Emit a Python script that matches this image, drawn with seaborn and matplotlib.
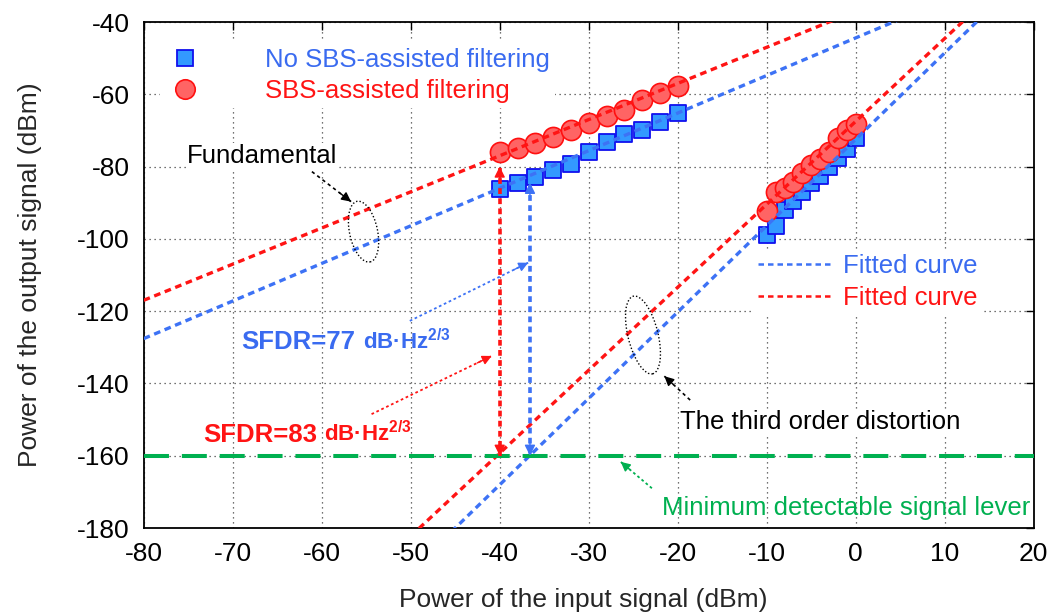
import numpy as np
import pandas as pd
import seaborn as sns
import matplotlib.pyplot as plt
from matplotlib.lines import Line2D
from matplotlib.patches import Ellipse
from matplotlib.transforms import ScaledTranslation

# Measured output power (dBm) versus input power (dBm)
x_fund = [-40, -38, -36, -34, -32, -30, -28, -26, -24, -22, -20]
no_sbs_fund = [-86.3, -84.6, -82.8, -81.0, -79.2, -76.0, -73.2, -71.1, -69.9, -67.6, -65.1]
sbs_fund = [-75.9, -74.9, -73.6, -71.9, -69.9, -67.9, -66.0, -64.3, -61.6, -59.7, -57.7]

x_imd = [-10, -9, -8, -7, -6, -5, -4, -3, -2, -1, 0]
no_sbs_imd = [-99.0, -96.5, -92.0, -89.5, -87.0, -84.5, -82.5, -80.0, -77.5, -75.0, -72.0]
sbs_imd = [-92.3, -87.0, -86.0, -84.4, -81.8, -79.6, -77.8, -76.0, -72.0, -70.0, -68.3]

# Linear fits: (slope, intercept, x_start, x_end)
fit_no_sbs_fund = (1.04, -44.4, -80, 20)
fit_sbs_fund = (1.00, -37.0, -80, 20)
fit_no_sbs_imd = (2.39, -72.45, -50, 20)
fit_sbs_imd = (2.295, -67.5, -50, 20)

noise_floor = -160
sfdr_no_sbs = 77
sfdr_sbs = 83
x_sfdr_sbs = -40
x_sfdr_no_sbs = -36.6

BLUE = "#3d72f5"
BLUE_TXT = "#3a6bf0"
RED = "#ff1414"
GREEN = "#00b050"

sns.set_theme(style="white")
plt.rcParams["font.family"] = ["Liberation Sans", "DejaVu Sans"]
plt.rcParams["axes.unicode_minus"] = False
plt.rcParams["mathtext.fontset"] = "custom"
plt.rcParams["mathtext.rm"] = "Liberation Sans"
plt.rcParams["mathtext.bf"] = "Liberation Sans:bold"

fig = plt.figure(figsize=(10.49, 6.16), dpi=100)
ax = fig.add_axes([143.7 / 1049, 1 - 528 / 616, 890 / 1049, 506 / 616])

ax.set_xlim(-80, 20)
ax.set_ylim(-180, -40)
ax.set_xticks(np.arange(-80, 21, 10))
ax.set_yticks(np.arange(-180, -39, 20))
ax.grid(True, color="#444444", linestyle=(0, (1, 3)), linewidth=0.9, zorder=0)
ax.set_axisbelow(True)

fit_dash = (0, (2.0, 1.4))


def draw_fit(fit, color):
    k, b, x0, x1 = fit
    xs = np.array([x0, x1], dtype=float)
    df = pd.DataFrame({"x": xs, "y": k * xs + b})
    sns.lineplot(data=df, x="x", y="y", ax=ax, color=color, linewidth=2.4,
                 linestyle=fit_dash, zorder=5, legend=False)


# measured points
sns.scatterplot(x=x_fund, y=no_sbs_fund, ax=ax, marker="s", s=135, color="#3399ff",
                edgecolor="#1010ee", linewidth=1.3, zorder=4, legend=False)
sns.scatterplot(x=x_imd, y=no_sbs_imd, ax=ax, marker="s", s=135, color="#3399ff",
                edgecolor="#1010ee", linewidth=1.3, zorder=4, legend=False)
sns.scatterplot(x=x_fund, y=sbs_fund, ax=ax, marker="o", s=210, color="#ff6464",
                edgecolor="#ff1010", linewidth=1.2, zorder=4, legend=False)
sns.scatterplot(x=x_imd, y=sbs_imd, ax=ax, marker="o", s=210, color="#ff6464",
                edgecolor="#ff1010", linewidth=1.2, zorder=4, legend=False)

draw_fit(fit_no_sbs_fund, BLUE)
draw_fit(fit_sbs_fund, RED)
draw_fit(fit_no_sbs_imd, BLUE)
draw_fit(fit_sbs_imd, RED)

# minimum detectable signal level
df_floor = pd.DataFrame({"x": [-80, 20], "y": [noise_floor, noise_floor]})
sns.lineplot(data=df_floor, x="x", y="y", ax=ax, color=GREEN, linewidth=2.9,
             linestyle=(0, (6.2, 3.2)), zorder=5, legend=False)
ax.set_xlabel("")
ax.set_ylabel("")


def arrow_head(x0, y0, x1, y1, color, lw=1.5, scale=14):
    ax.annotate("", xy=(x1, y1), xytext=(x0, y0), zorder=6,
                arrowprops=dict(arrowstyle="-|>", color=color, lw=lw,
                                mutation_scale=scale, shrinkA=0, shrinkB=0))


def dashed_arrow(x0, y0, x1, y1, color, lw, ls, head_frac=0.02, scale=14):
    ax.plot([x0, x1], [y0, y1], color=color, lw=lw, linestyle=ls, zorder=6)
    hx = x1 - (x1 - x0) * head_frac
    hy = y1 - (y1 - y0) * head_frac
    arrow_head(hx, hy, x1, y1, color, lw=1.0, scale=scale)


# SFDR double arrows
ax.plot([x_sfdr_sbs, x_sfdr_sbs], [-80.5, noise_floor], color=RED, lw=2.6,
        linestyle=(0, (1.6, 1.2)), zorder=6)
arrow_head(x_sfdr_sbs, -84, x_sfdr_sbs, -80.0, RED, lw=1.0, scale=16)
arrow_head(x_sfdr_sbs, -156, x_sfdr_sbs, noise_floor, RED, lw=1.0, scale=16)
ax.plot([x_sfdr_no_sbs, x_sfdr_no_sbs], [-85, noise_floor], color=BLUE, lw=2.6,
        linestyle=(0, (1.6, 1.2)), zorder=6)
arrow_head(x_sfdr_no_sbs, -88, x_sfdr_no_sbs, -84.5, BLUE, lw=1.0, scale=16)
arrow_head(x_sfdr_no_sbs, -156, x_sfdr_no_sbs, noise_floor, BLUE, lw=1.0, scale=16)

# pointers to the SFDR arrows
dashed_arrow(-50.1, -122.7, -36.8, -106.6, BLUE, 1.3, (0, (1.5, 1.5)), head_frac=0.12)
dashed_arrow(-54.4, -148.5, -40.9, -132.4, RED, 1.3, (0, (1.5, 1.5)), head_frac=0.12)

# SFDR labels
t77 = ax.text(-69.0, -130.4, f"SFDR={sfdr_no_sbs}", color=BLUE_TXT, fontsize=18.5,
              fontweight="bold", ha="left", va="baseline", zorder=7)
ax.annotate("dB·Hz$^{\\mathbf{2/3}}$", xy=(1, 0), xycoords=t77, xytext=(5, 0),
            textcoords="offset points", color=BLUE_TXT, fontsize=16,
            fontweight="bold", ha="left", va="bottom", zorder=7)
t83 = ax.text(-73.3, -156.1, f"SFDR={sfdr_sbs}", color=RED, fontsize=18.5,
              fontweight="bold", ha="left", va="baseline", zorder=7)
ax.annotate("dB·Hz$^{\\mathbf{2/3}}$", xy=(1, 0), xycoords=t83, xytext=(5, 0),
            textcoords="offset points", color=RED, fontsize=16,
            fontweight="bold", ha="left", va="bottom", zorder=7)


def pixel_ellipse(xc, yc, w_px, h_px, angle):
    tr = fig.dpi_scale_trans + ScaledTranslation(xc, yc, ax.transData)
    e = Ellipse((0, 0), w_px / fig.dpi, h_px / fig.dpi, angle=angle, fill=False,
                edgecolor="black", linestyle=(0, (1, 1.5)), linewidth=1.0,
                transform=tr, zorder=6)
    ax.add_patch(e)


# fundamental annotation
pixel_ellipse(-55.3, -98.0, 28, 62, 12)
ax.text(-66.65, -77.2, "Fundamental", fontsize=18.5, color="black", ha="center",
        va="center", zorder=3, bbox=dict(facecolor="white", edgecolor="none", pad=1))
dashed_arrow(-61.1, -81.4, -56.7, -89.7, "black", 1.2, (0, (2, 2)), head_frac=0.3)

# third-order annotation
pixel_ellipse(-23.9, -126.6, 30, 80, 14)
ax.text(-19.7, -150.8, "The third order distortion", fontsize=18.5, color="black",
        ha="left", va="center", zorder=3,
        bbox=dict(facecolor="white", edgecolor="none", pad=1))
dashed_arrow(-18.6, -144.6, -21.5, -138.0, "black", 1.2, (0, (2, 2)), head_frac=0.35)

# noise floor annotation
ax.text(-21.8, -174.6, "Minimum detectable signal lever", fontsize=18.5, color=GREEN,
        ha="left", va="center", zorder=3)
dashed_arrow(-22.9, -169.0, -26.4, -161.7, GREEN, 1.3, (0, (1.5, 1.5)), head_frac=0.3)

# legends
h_data = [
    Line2D([], [], linestyle="none", marker="s", markersize=11.5, markerfacecolor="#3399ff",
           markeredgecolor="#1010ee", markeredgewidth=1.3),
    Line2D([], [], linestyle="none", marker="o", markersize=14, markerfacecolor="#ff6464",
           markeredgecolor="#ff1010", markeredgewidth=1.2),
]
leg1 = ax.legend(h_data, ["No SBS-assisted filtering", "SBS-assisted filtering"],
                 loc="upper left", bbox_to_anchor=(0.004, 0.985), frameon=True,
                 facecolor="white", edgecolor="none", framealpha=1,
                 fontsize=18.5, handlelength=1.5, handletextpad=2.4,
                 labelspacing=0.3, borderpad=0.2)
for txt, col in zip(leg1.get_texts(), [BLUE_TXT, RED]):
    txt.set_color(col)
leg1.set_zorder(3)
ax.add_artist(leg1)

h_fit = [
    Line2D([], [], color=BLUE, lw=1.8, linestyle=(0, (2.2, 1.6))),
    Line2D([], [], color=RED, lw=1.8, linestyle=(0, (2.2, 1.6))),
]
leg2 = ax.legend(h_fit, ["Fitted curve", "Fitted curve"], loc="upper left",
                 bbox_to_anchor=(0.67, 0.577), frameon=True, facecolor="white",
                 edgecolor="none", framealpha=1, fontsize=18.5, handlelength=2.9,
                 handletextpad=0.4, labelspacing=0.3, borderpad=0.2)
for txt, col in zip(leg2.get_texts(), [BLUE_TXT, RED]):
    txt.set_color(col)
leg2.set_zorder(3)

ax.tick_params(direction="in", top=True, right=True, length=6, width=1.0,
               color="black", labelsize=19, pad=10, labelcolor="black")
for sp in ax.spines.values():
    sp.set_color("black")
    sp.set_linewidth(1.3)

fig.text(30 / 1049, 1 - 275 / 616, "Power of the output signal (dBm)", rotation=90,
         ha="center", va="center", fontsize=19)
fig.text(583 / 1049, 1 - 600 / 616, "Power of the input signal (dBm)",
         ha="center", va="center", fontsize=19)

fig.savefig("out.png", dpi=100)
